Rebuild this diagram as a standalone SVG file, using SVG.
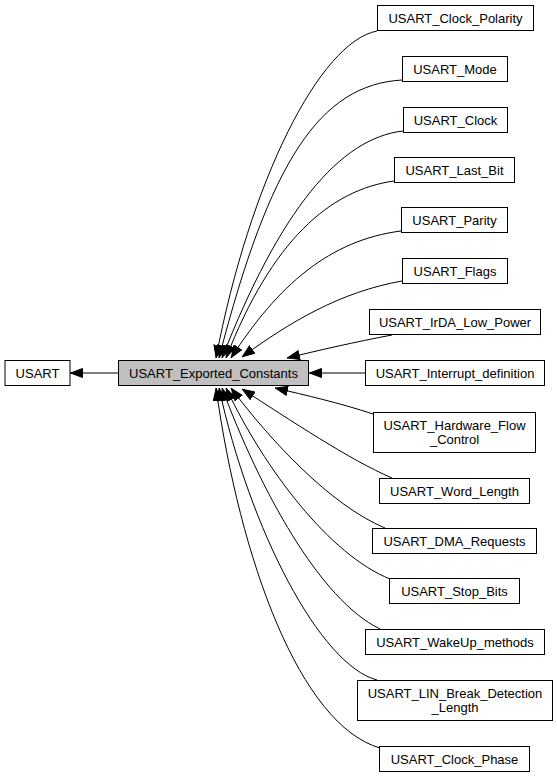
<svg xmlns="http://www.w3.org/2000/svg" width="557" height="779" viewBox="0 0 557 779">
<defs>
<marker id="ah" viewBox="0 0 13 10" refX="13" refY="5" markerWidth="13" markerHeight="10" markerUnits="userSpaceOnUse" orient="auto">
<path d="M0.5,0.5 L12.5,5 L0.5,9.5 z" fill="#000" stroke="#000" stroke-width="1"/>
</marker>
<style>
.n rect{fill:#fff;stroke:#000;stroke-width:1}
.n.cur rect{fill:#bfbfbf}
.n text{font-family:"Liberation Sans",Arial,sans-serif;font-size:13px;text-anchor:middle;fill:#000}
#edges path{fill:none;stroke:#000;stroke-width:1;marker-end:url(#ah)}
</style>
</defs>
<rect width="557" height="779" fill="#fff"/>
<g id="edges">
<path d="M118,373 L70,373"/>
<path d="M377,31 C320,42 250,180 216,358"/>
<path d="M402,80 C320,85 270,160 219,358"/>
<path d="M403,131 C340,138 280,210 222,358"/>
<path d="M394,181 C330,190 272,240 226,358"/>
<path d="M401,231 C330,240 278,285 231,358"/>
<path d="M402,281 C340,292 290,322 242,357"/>
<path d="M392,335 C355,342 320,350 287,358"/>
<path d="M365,373 L309,373"/>
<path d="M373,414 C340,403 305,395 275,388"/>
<path d="M392,478 C350,460 290,420 242,389"/>
<path d="M385,528 C330,505 270,440 231,388"/>
<path d="M390,579 C330,555 265,470 226,388"/>
<path d="M380,629 C320,600 260,490 222,388"/>
<path d="M377,680 C320,665 250,530 219,388"/>
<path d="M380,748 C300,725 240,560 216,388"/>
</g>
<g id="USART" class="n"><rect x="5" y="360.5" width="65" height="25"/><text x="37.5" y="377.5">USART</text></g>
<g id="USART_Exported_Constants" class="n cur"><rect x="118.5" y="360.5" width="190" height="25"/><text x="213.5" y="377.5">USART_Exported_Constants</text></g>
<g id="USART_Clock_Polarity" class="n"><rect x="377.5" y="5.5" width="156" height="25"/><text x="455.5" y="22.5">USART_Clock_Polarity</text></g>
<g id="USART_Mode" class="n"><rect x="402.5" y="56.5" width="105" height="25"/><text x="455" y="73.5">USART_Mode</text></g>
<g id="USART_Clock" class="n"><rect x="403.5" y="107.5" width="104" height="25"/><text x="455.5" y="124.5">USART_Clock</text></g>
<g id="USART_Last_Bit" class="n"><rect x="394.5" y="157.5" width="120" height="25"/><text x="454.5" y="174.5">USART_Last_Bit</text></g>
<g id="USART_Parity" class="n"><rect x="401.5" y="207.5" width="106" height="25"/><text x="454.5" y="224.5">USART_Parity</text></g>
<g id="USART_Flags" class="n"><rect x="402.5" y="258.5" width="105" height="25"/><text x="455" y="275.5">USART_Flags</text></g>
<g id="USART_IrDA_Low_Power" class="n"><rect x="369.5" y="309.5" width="171" height="25"/><text x="455" y="326.5">USART_IrDA_Low_Power</text></g>
<g id="USART_Interrupt_definition" class="n"><rect x="365.5" y="360.5" width="179" height="25"/><text x="455" y="377.5">USART_Interrupt_definition</text></g>
<g id="USART_Hardware_Flow_Control" class="n"><rect x="373.5" y="412.5" width="162" height="40"/><text x="454.5" y="429.5">USART_Hardware_Flow</text><text x="454.5" y="443.5">_Control</text></g>
<g id="USART_Word_Length" class="n"><rect x="379.5" y="478.5" width="150" height="25"/><text x="454.5" y="495.5">USART_Word_Length</text></g>
<g id="USART_DMA_Requests" class="n"><rect x="372.5" y="528.5" width="164" height="25"/><text x="454.5" y="545.5">USART_DMA_Requests</text></g>
<g id="USART_Stop_Bits" class="n"><rect x="389.5" y="578.5" width="130" height="25"/><text x="454.5" y="595.5">USART_Stop_Bits</text></g>
<g id="USART_WakeUp_methods" class="n"><rect x="365.5" y="629.5" width="179" height="25"/><text x="455" y="646.5">USART_WakeUp_methods</text></g>
<g id="USART_LIN_Break_Detection_Length" class="n"><rect x="357.5" y="680.5" width="195" height="40"/><text x="455" y="697.5">USART_LIN_Break_Detection</text><text x="455" y="711.5">_Length</text></g>
<g id="USART_Clock_Phase" class="n"><rect x="379.5" y="746.5" width="150" height="25"/><text x="454.5" y="763.5">USART_Clock_Phase</text></g>
</svg>
